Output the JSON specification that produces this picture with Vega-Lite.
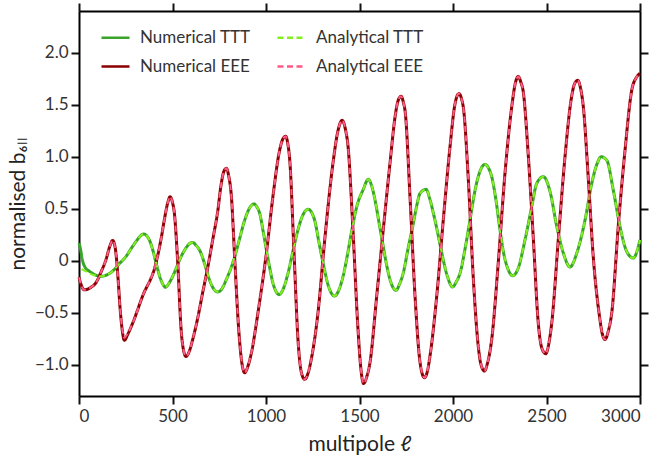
{
"$schema": "https://vega.github.io/schema/vega-lite/v6.json",
"width": 561, "height": 385,
"autosize": {"type": "none"},
"padding": {"left": 79, "top": 11, "right": 19, "bottom": 65},
"background": "white",
"config": {
 "view": {"stroke": null},
 "axis": {"domainColor": "#000000", "domainWidth": 2, "labelFont": "Lato", "labelFontSize": 17, "labelColor": "#333", "titleFont": "Lato", "titleFontWeight": "normal", "titleFontSize": 21, "titleColor": "#222", "grid": false},
 "legend": {"labelFont": "Lato", "labelFontSize": 17, "labelColor": "#333", "symbolStrokeWidth": 2.5}
},
"data": {"values": [
{"l":0,"Numerical TTT":0.17},{"l":5,"Numerical TTT":0.137},{"l":14,"Analytical TTT":-0.08},{"l":20,"Numerical TTT":-0.007},
{"l":35,"Numerical TTT":-0.07,"Analytical TTT":-0.1},{"l":55,"Numerical TTT":-0.1,"Analytical TTT":-0.12},{"l":85,"Numerical TTT":-0.135,"Analytical TTT":-0.14},
{"l":118,"Numerical TTT":-0.15,"Analytical TTT":-0.15},{"l":150,"Numerical TTT":-0.135,"Analytical TTT":-0.135},{"l":180,"Numerical TTT":-0.1,"Analytical TTT":-0.1},
{"l":215,"Numerical TTT":-0.03,"Analytical TTT":-0.03},{"l":251,"Numerical TTT":0.04,"Analytical TTT":0.04},{"l":280,"Numerical TTT":0.12,"Analytical TTT":0.12},
{"l":305,"Numerical TTT":0.185,"Analytical TTT":0.185},{"l":330,"Numerical TTT":0.24,"Analytical TTT":0.24},{"l":346,"Numerical TTT":0.258,"Analytical TTT":0.258},
{"l":362,"Numerical TTT":0.24,"Analytical TTT":0.24},{"l":376,"Numerical TTT":0.2,"Analytical TTT":0.2},{"l":395,"Numerical TTT":0.1,"Analytical TTT":0.1},
{"l":412,"Numerical TTT":-0.02,"Analytical TTT":-0.02},{"l":435,"Numerical TTT":-0.17,"Analytical TTT":-0.17},{"l":450,"Numerical TTT":-0.23,"Analytical TTT":-0.23},
{"l":462,"Numerical TTT":-0.255,"Analytical TTT":-0.255},{"l":480,"Numerical TTT":-0.22,"Analytical TTT":-0.22},{"l":501,"Numerical TTT":-0.15,"Analytical TTT":-0.15},
{"l":525,"Numerical TTT":-0.05,"Analytical TTT":-0.05},{"l":546,"Numerical TTT":0.04,"Analytical TTT":0.04},{"l":575,"Numerical TTT":0.13,"Analytical TTT":0.13},
{"l":595,"Numerical TTT":0.17,"Analytical TTT":0.17},{"l":608,"Numerical TTT":0.175,"Analytical TTT":0.175},{"l":625,"Numerical TTT":0.15,"Analytical TTT":0.15},
{"l":652,"Numerical TTT":0.074,"Analytical TTT":0.074},{"l":675,"Numerical TTT":-0.05,"Analytical TTT":-0.05},{"l":697,"Numerical TTT":-0.18,"Analytical TTT":-0.18},
{"l":720,"Numerical TTT":-0.27,"Analytical TTT":-0.27},{"l":742,"Numerical TTT":-0.3,"Analytical TTT":-0.3},{"l":760,"Numerical TTT":-0.28,"Analytical TTT":-0.28},
{"l":788,"Numerical TTT":-0.18,"Analytical TTT":-0.18},{"l":833,"Numerical TTT":0.04,"Analytical TTT":0.04},{"l":860,"Numerical TTT":0.22,"Analytical TTT":0.22},
{"l":886,"Numerical TTT":0.39,"Analytical TTT":0.39},{"l":910,"Numerical TTT":0.5,"Analytical TTT":0.5},{"l":936,"Numerical TTT":0.546,"Analytical TTT":0.546},
{"l":950,"Numerical TTT":0.52,"Analytical TTT":0.52},{"l":966,"Numerical TTT":0.457,"Analytical TTT":0.457},{"l":985,"Numerical TTT":0.28,"Analytical TTT":0.28},
{"l":1002,"Numerical TTT":0.105,"Analytical TTT":0.105},{"l":1020,"Numerical TTT":-0.07,"Analytical TTT":-0.07},{"l":1037,"Numerical TTT":-0.214,"Analytical TTT":-0.214},
{"l":1055,"Numerical TTT":-0.3,"Analytical TTT":-0.3},{"l":1070,"Numerical TTT":-0.326,"Analytical TTT":-0.326},{"l":1090,"Numerical TTT":-0.28,"Analytical TTT":-0.28},
{"l":1118,"Numerical TTT":-0.118,"Analytical TTT":-0.118},{"l":1145,"Numerical TTT":0.1,"Analytical TTT":0.1},{"l":1171,"Numerical TTT":0.297,"Analytical TTT":0.297},
{"l":1195,"Numerical TTT":0.43,"Analytical TTT":0.43},{"l":1225,"Numerical TTT":0.495,"Analytical TTT":0.495},{"l":1245,"Numerical TTT":0.46,"Analytical TTT":0.46},
{"l":1260,"Numerical TTT":0.39,"Analytical TTT":0.39},{"l":1283,"Numerical TTT":0.18,"Analytical TTT":0.18},{"l":1305,"Numerical TTT":-0.02,"Analytical TTT":-0.02},
{"l":1335,"Numerical TTT":-0.25,"Analytical TTT":-0.25},{"l":1367,"Numerical TTT":-0.34,"Analytical TTT":-0.34},{"l":1390,"Numerical TTT":-0.28,"Analytical TTT":-0.28},
{"l":1412,"Numerical TTT":-0.15,"Analytical TTT":-0.15},{"l":1435,"Numerical TTT":0.05,"Analytical TTT":0.05},{"l":1456,"Numerical TTT":0.265,"Analytical TTT":0.265},
{"l":1490,"Numerical TTT":0.55,"Analytical TTT":0.55},{"l":1519,"Numerical TTT":0.68,"Analytical TTT":0.68},{"l":1547,"Numerical TTT":0.783,"Analytical TTT":0.783},
{"l":1565,"Numerical TTT":0.72,"Analytical TTT":0.72},{"l":1583,"Numerical TTT":0.584,"Analytical TTT":0.584},{"l":1605,"Numerical TTT":0.36,"Analytical TTT":0.36},
{"l":1627,"Numerical TTT":0.137,"Analytical TTT":0.137},{"l":1645,"Numerical TTT":-0.04,"Analytical TTT":-0.04},{"l":1663,"Numerical TTT":-0.18,"Analytical TTT":-0.18},
{"l":1680,"Numerical TTT":-0.26,"Analytical TTT":-0.26},{"l":1695,"Numerical TTT":-0.284,"Analytical TTT":-0.284},{"l":1715,"Numerical TTT":-0.22,"Analytical TTT":-0.22},
{"l":1734,"Numerical TTT":-0.118,"Analytical TTT":-0.118},{"l":1760,"Numerical TTT":0.12,"Analytical TTT":0.12},{"l":1788,"Numerical TTT":0.36,"Analytical TTT":0.36},
{"l":1805,"Numerical TTT":0.52,"Analytical TTT":0.52},{"l":1824,"Numerical TTT":0.648,"Analytical TTT":0.648},{"l":1856,"Numerical TTT":0.686,"Analytical TTT":0.686},
{"l":1875,"Numerical TTT":0.6,"Analytical TTT":0.6},{"l":1895,"Numerical TTT":0.457,"Analytical TTT":0.457},{"l":1918,"Numerical TTT":0.27,"Analytical TTT":0.27},
{"l":1940,"Numerical TTT":0.074,"Analytical TTT":0.074},{"l":1970,"Numerical TTT":-0.15,"Analytical TTT":-0.15},{"l":1998,"Numerical TTT":-0.252,"Analytical TTT":-0.252},
{"l":2018,"Numerical TTT":-0.2,"Analytical TTT":-0.2},{"l":2038,"Numerical TTT":-0.118,"Analytical TTT":-0.118},{"l":2065,"Numerical TTT":0.12,"Analytical TTT":0.12},
{"l":2091,"Numerical TTT":0.39,"Analytical TTT":0.39},{"l":2115,"Numerical TTT":0.65,"Analytical TTT":0.65},{"l":2135,"Numerical TTT":0.808,"Analytical TTT":0.808},
{"l":2171,"Numerical TTT":0.926,"Analytical TTT":0.926},{"l":2190,"Numerical TTT":0.89,"Analytical TTT":0.89},{"l":2207,"Numerical TTT":0.808,"Analytical TTT":0.808},
{"l":2230,"Numerical TTT":0.58,"Analytical TTT":0.58},{"l":2251,"Numerical TTT":0.3,"Analytical TTT":0.3},{"l":2270,"Numerical TTT":0.08,"Analytical TTT":0.08},
{"l":2290,"Numerical TTT":-0.06,"Analytical TTT":-0.06},{"l":2319,"Numerical TTT":-0.144,"Analytical TTT":-0.144},{"l":2349,"Numerical TTT":-0.07,"Analytical TTT":-0.07},
{"l":2385,"Numerical TTT":0.2,"Analytical TTT":0.2},{"l":2421,"Numerical TTT":0.52,"Analytical TTT":0.52},{"l":2448,"Numerical TTT":0.744,"Analytical TTT":0.744},
{"l":2483,"Numerical TTT":0.808,"Analytical TTT":0.808},{"l":2519,"Numerical TTT":0.664,"Analytical TTT":0.664},{"l":2555,"Numerical TTT":0.329,"Analytical TTT":0.329},
{"l":2590,"Numerical TTT":0.074,"Analytical TTT":0.074},{"l":2626,"Numerical TTT":-0.06,"Analytical TTT":-0.06},{"l":2662,"Numerical TTT":0.074,"Analytical TTT":0.074},
{"l":2706,"Numerical TTT":0.39,"Analytical TTT":0.39},{"l":2742,"Numerical TTT":0.744,"Analytical TTT":0.744},{"l":2770,"Numerical TTT":0.93,"Analytical TTT":0.93},
{"l":2792,"Numerical TTT":0.999,"Analytical TTT":0.999},{"l":2822,"Numerical TTT":0.967,"Analytical TTT":0.967},{"l":2857,"Numerical TTT":0.68,"Analytical TTT":0.68},
{"l":2893,"Numerical TTT":0.329,"Analytical TTT":0.329},{"l":2929,"Numerical TTT":0.089,"Analytical TTT":0.089},{"l":2964,"Numerical TTT":0.026,"Analytical TTT":0.026},
{"l":3000,"Numerical TTT":0.2,"Analytical TTT":0.2},

{"l":0,"Numerical EEE":-0.16,"Analytical EEE":-0.16},{"l":28,"Numerical EEE":-0.28,"Analytical EEE":-0.28},{"l":60,"Numerical EEE":-0.26,"Analytical EEE":-0.26},
{"l":91,"Numerical EEE":-0.21,"Analytical EEE":-0.21},{"l":120,"Numerical EEE":-0.1,"Analytical EEE":-0.1},{"l":144,"Numerical EEE":0.01,"Analytical EEE":0.01},
{"l":165,"Numerical EEE":0.14,"Analytical EEE":0.14},{"l":180,"Numerical EEE":0.195,"Analytical EEE":0.195},{"l":192,"Numerical EEE":0.14,"Analytical EEE":0.14},
{"l":201,"Numerical EEE":0.01,"Analytical EEE":0.01},{"l":210,"Numerical EEE":-0.2,"Analytical EEE":-0.2},{"l":219,"Numerical EEE":-0.44,"Analytical EEE":-0.44},
{"l":230,"Numerical EEE":-0.65,"Analytical EEE":-0.64},{"l":243,"Numerical EEE":-0.765,"Analytical EEE":-0.74},{"l":260,"Numerical EEE":-0.71,"Analytical EEE":-0.7},
{"l":287,"Numerical EEE":-0.6,"Analytical EEE":-0.6},{"l":340,"Numerical EEE":-0.34,"Analytical EEE":-0.34},{"l":412,"Numerical EEE":-0.02,"Analytical EEE":-0.02},
{"l":440,"Numerical EEE":0.22,"Analytical EEE":0.22},{"l":456,"Numerical EEE":0.39,"Analytical EEE":0.39},{"l":475,"Numerical EEE":0.56,"Analytical EEE":0.56},
{"l":487,"Numerical EEE":0.615,"Analytical EEE":0.615},{"l":500,"Numerical EEE":0.56,"Analytical EEE":0.56},{"l":510,"Numerical EEE":0.457,"Analytical EEE":0.457},
{"l":528,"Numerical EEE":-0.02,"Analytical EEE":-0.02},{"l":546,"Numerical EEE":-0.66,"Analytical EEE":-0.66},{"l":558,"Numerical EEE":-0.85,"Analytical EEE":-0.85},
{"l":572,"Numerical EEE":-0.92,"Analytical EEE":-0.92},{"l":590,"Numerical EEE":-0.87,"Analytical EEE":-0.87},{"l":608,"Numerical EEE":-0.757,"Analytical EEE":-0.757},
{"l":635,"Numerical EEE":-0.55,"Analytical EEE":-0.55},{"l":661,"Numerical EEE":-0.31,"Analytical EEE":-0.31},{"l":690,"Numerical EEE":-0.05,"Analytical EEE":-0.05},
{"l":715,"Numerical EEE":0.2,"Analytical EEE":0.2},{"l":743,"Numerical EEE":0.49,"Analytical EEE":0.49},{"l":759,"Numerical EEE":0.72,"Analytical EEE":0.72},
{"l":775,"Numerical EEE":0.86,"Analytical EEE":0.86},{"l":788,"Numerical EEE":0.888,"Analytical EEE":0.888},{"l":800,"Numerical EEE":0.82,"Analytical EEE":0.82},
{"l":815,"Numerical EEE":0.616,"Analytical EEE":0.616},{"l":833,"Numerical EEE":0.01,"Analytical EEE":0.01},{"l":854,"Numerical EEE":-0.66,"Analytical EEE":-0.66},
{"l":870,"Numerical EEE":-0.97,"Analytical EEE":-0.97},{"l":886,"Numerical EEE":-1.076,"Analytical EEE":-1.076},{"l":904,"Numerical EEE":-1.01,"Analytical EEE":-1.01},
{"l":922,"Numerical EEE":-0.884,"Analytical EEE":-0.884},{"l":957,"Numerical EEE":-0.5,"Analytical EEE":-0.5},{"l":1002,"Numerical EEE":0.074,"Analytical EEE":0.074},
{"l":1037,"Numerical EEE":0.616,"Analytical EEE":0.616},{"l":1073,"Numerical EEE":1.063,"Analytical EEE":1.063},{"l":1090,"Numerical EEE":1.17,"Analytical EEE":1.17},
{"l":1105,"Numerical EEE":1.197,"Analytical EEE":1.197},{"l":1117,"Numerical EEE":1.12,"Analytical EEE":1.12},{"l":1127,"Numerical EEE":0.967,"Analytical EEE":0.967},
{"l":1150,"Numerical EEE":0.074,"Analytical EEE":0.074},{"l":1171,"Numerical EEE":-0.757,"Analytical EEE":-0.757},{"l":1190,"Numerical EEE":-1.08,"Analytical EEE":-1.08},
{"l":1207,"Numerical EEE":-1.14,"Analytical EEE":-1.14},{"l":1225,"Numerical EEE":-1.08,"Analytical EEE":-1.08},{"l":1242,"Numerical EEE":-0.948,"Analytical EEE":-0.948},
{"l":1278,"Numerical EEE":-0.5,"Analytical EEE":-0.5},{"l":1314,"Numerical EEE":0.2,"Analytical EEE":0.2},{"l":1358,"Numerical EEE":0.936,"Analytical EEE":0.936},
{"l":1385,"Numerical EEE":1.25,"Analytical EEE":1.25},{"l":1407,"Numerical EEE":1.35,"Analytical EEE":1.35},{"l":1425,"Numerical EEE":1.26,"Analytical EEE":1.26},
{"l":1439,"Numerical EEE":1.095,"Analytical EEE":1.095},{"l":1465,"Numerical EEE":0.297,"Analytical EEE":0.297},{"l":1492,"Numerical EEE":-0.66,"Analytical EEE":-0.66},
{"l":1508,"Numerical EEE":-1.05,"Analytical EEE":-1.05},{"l":1522,"Numerical EEE":-1.18,"Analytical EEE":-1.18},{"l":1538,"Numerical EEE":-1.12,"Analytical EEE":-1.12},
{"l":1556,"Numerical EEE":-0.98,"Analytical EEE":-0.98},{"l":1592,"Numerical EEE":-0.34,"Analytical EEE":-0.34},{"l":1627,"Numerical EEE":0.297,"Analytical EEE":0.297},
{"l":1663,"Numerical EEE":0.936,"Analytical EEE":0.936},{"l":1690,"Numerical EEE":1.38,"Analytical EEE":1.38},{"l":1705,"Numerical EEE":1.53,"Analytical EEE":1.53},
{"l":1722,"Numerical EEE":1.58,"Analytical EEE":1.58},{"l":1735,"Numerical EEE":1.52,"Analytical EEE":1.52},{"l":1745,"Numerical EEE":1.42,"Analytical EEE":1.42},
{"l":1770,"Numerical EEE":0.616,"Analytical EEE":0.616},{"l":1797,"Numerical EEE":-0.34,"Analytical EEE":-0.34},{"l":1824,"Numerical EEE":-0.98,"Analytical EEE":-0.98},
{"l":1847,"Numerical EEE":-1.124,"Analytical EEE":-1.124},{"l":1862,"Numerical EEE":-1.07,"Analytical EEE":-1.07},{"l":1877,"Numerical EEE":-0.916,"Analytical EEE":-0.916},
{"l":1913,"Numerical EEE":-0.34,"Analytical EEE":-0.34},{"l":1948,"Numerical EEE":0.39,"Analytical EEE":0.39},{"l":1984,"Numerical EEE":1.095,"Analytical EEE":1.095},
{"l":2010,"Numerical EEE":1.5,"Analytical EEE":1.5},{"l":2032,"Numerical EEE":1.606,"Analytical EEE":1.606},{"l":2045,"Numerical EEE":1.56,"Analytical EEE":1.56},
{"l":2057,"Numerical EEE":1.45,"Analytical EEE":1.45},{"l":2082,"Numerical EEE":0.776,"Analytical EEE":0.776},{"l":2109,"Numerical EEE":-0.18,"Analytical EEE":-0.18},
{"l":2135,"Numerical EEE":-0.82,"Analytical EEE":-0.82},{"l":2150,"Numerical EEE":-1.0,"Analytical EEE":-1.0},{"l":2168,"Numerical EEE":-1.06,"Analytical EEE":-1.06},
{"l":2185,"Numerical EEE":-0.98,"Analytical EEE":-0.98},{"l":2207,"Numerical EEE":-0.757,"Analytical EEE":-0.757},{"l":2242,"Numerical EEE":-0.02,"Analytical EEE":-0.02},
{"l":2278,"Numerical EEE":0.84,"Analytical EEE":0.84},{"l":2314,"Numerical EEE":1.478,"Analytical EEE":1.478},{"l":2335,"Numerical EEE":1.72,"Analytical EEE":1.72},
{"l":2349,"Numerical EEE":1.77,"Analytical EEE":1.77},{"l":2362,"Numerical EEE":1.72,"Analytical EEE":1.72},{"l":2376,"Numerical EEE":1.62,"Analytical EEE":1.62},
{"l":2403,"Numerical EEE":1.0,"Analytical EEE":1.0},{"l":2430,"Numerical EEE":0.2,"Analytical EEE":0.2},{"l":2456,"Numerical EEE":-0.6,"Analytical EEE":-0.6},
{"l":2475,"Numerical EEE":-0.84,"Analytical EEE":-0.84},{"l":2496,"Numerical EEE":-0.894,"Analytical EEE":-0.894},{"l":2512,"Numerical EEE":-0.8,"Analytical EEE":-0.8},
{"l":2528,"Numerical EEE":-0.6,"Analytical EEE":-0.6},{"l":2563,"Numerical EEE":0.2,"Analytical EEE":0.2},{"l":2599,"Numerical EEE":1.0,"Analytical EEE":1.0},
{"l":2631,"Numerical EEE":1.54,"Analytical EEE":1.54},{"l":2650,"Numerical EEE":1.7,"Analytical EEE":1.7},{"l":2667,"Numerical EEE":1.734,"Analytical EEE":1.734},
{"l":2682,"Numerical EEE":1.66,"Analytical EEE":1.66},{"l":2697,"Numerical EEE":1.478,"Analytical EEE":1.478},{"l":2724,"Numerical EEE":0.776,"Analytical EEE":0.776},
{"l":2750,"Numerical EEE":0.04,"Analytical EEE":0.04},{"l":2783,"Numerical EEE":-0.53,"Analytical EEE":-0.53},{"l":2798,"Numerical EEE":-0.7,"Analytical EEE":-0.7},
{"l":2813,"Numerical EEE":-0.757,"Analytical EEE":-0.757},{"l":2830,"Numerical EEE":-0.68,"Analytical EEE":-0.68},{"l":2849,"Numerical EEE":-0.5,"Analytical EEE":-0.5},
{"l":2885,"Numerical EEE":0.36,"Analytical EEE":0.36},{"l":2920,"Numerical EEE":1.063,"Analytical EEE":1.063},{"l":2956,"Numerical EEE":1.64,"Analytical EEE":1.64},
{"l":2982,"Numerical EEE":1.765,"Analytical EEE":1.765},{"l":3000,"Numerical EEE":1.8,"Analytical EEE":1.8}
]},
"transform": [
 {"fold": ["Numerical TTT", "Analytical TTT", "Numerical EEE", "Analytical EEE"], "as": ["series", "v"]},
 {"filter": "isValid(datum.v)"}
],
"layer": [
 {
  "transform": [{"filter": "indexof(datum.series, 'Numerical') >= 0"}],
  "mark": {"type": "line", "interpolate": "monotone", "strokeWidth": 3},
  "encoding": {
   "x": {"field": "l", "type": "quantitative", "scale": {"domain": [0, 3000], "nice": false},
     "axis": {"orient": "bottom", "values": [0, 500, 1000, 1500, 2000, 2500, 3000], "format": "d", "title": "multipole ℓ", "labelPadding": 4, "titlePadding": 9, "tickSize": 8, "tickColor": "#111111", "tickWidth": 2}},
   "y": {"field": "v", "type": "quantitative", "scale": {"domain": [-1.3, 2.4], "nice": false, "zero": false},
     "axis": {"orient": "left", "values": [-1, -0.5, 0, 0.5, 1, 1.5, 2], "labelExpr": "datum.value == 0 ? '0' : format(datum.value, '.1f')", "title": "normalised  b₆ₗₗ", "labelPadding": 3, "titlePadding": 6, "tickSize": 8, "tickColor": "#111111", "tickWidth": 2}},
   "color": {"field": "series", "type": "nominal",
     "scale": {"domain": ["Numerical TTT", "Numerical EEE", "Analytical TTT", "Analytical EEE"], "range": ["#38a52a", "#8b0000", "#84ee1e", "#ff5a87"]},
     "legend": {"orient": "none", "legendX": 21, "legendY": 11, "columns": 2, "title": null, "symbolSize": 784, "symbolType": "stroke", "rowPadding": 5, "columnPadding": 21, "labelOffset": 9, "labelLimit": 300, "padding": 0}},
   "strokeDash": {"field": "series", "type": "nominal",
     "scale": {"domain": ["Numerical TTT", "Numerical EEE", "Analytical TTT", "Analytical EEE"], "range": [[1, 0], [1, 0], [6, 3.5], [6, 3.5]]}, "legend": null}
  }
 },
 {
  "transform": [{"filter": "indexof(datum.series, 'Analytical') >= 0"}],
  "mark": {"type": "line", "interpolate": "monotone", "strokeWidth": 2},
  "encoding": {
   "x": {"field": "l", "type": "quantitative", "axis": {"orient": "top", "labels": false, "title": null, "values": [0, 500, 1000, 1500, 2000, 2500, 3000], "tickSize": 8, "tickColor": "#111111", "tickWidth": 2}},
   "y": {"field": "v", "type": "quantitative", "axis": {"orient": "right", "labels": false, "title": null, "values": [-1, -0.5, 0, 0.5, 1, 1.5, 2], "tickSize": 8, "tickColor": "#111111", "tickWidth": 2}},
   "color": {"field": "series", "type": "nominal"},
   "strokeDash": {"field": "series", "type": "nominal"}
  }
 }
],
"resolve": {"axis": {"x": "independent", "y": "independent"}}
}
